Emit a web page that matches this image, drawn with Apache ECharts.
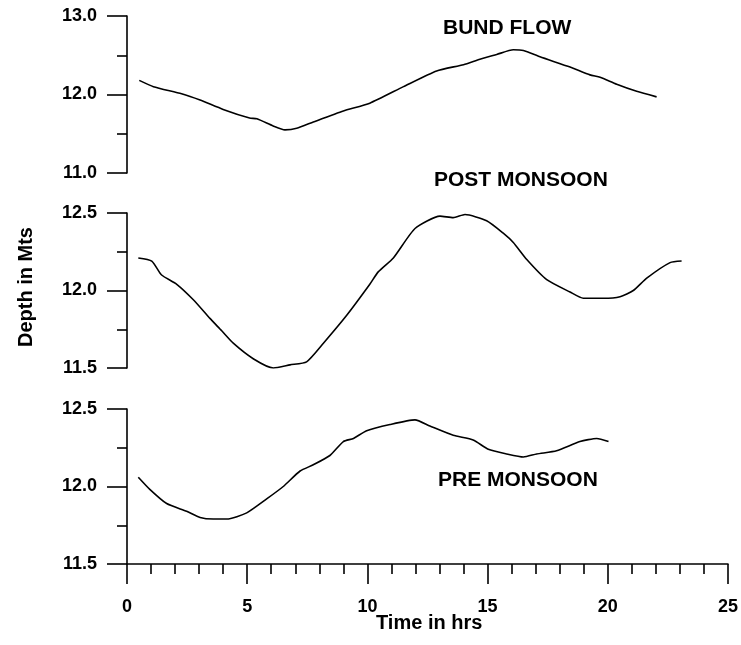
<!DOCTYPE html>
<html><head><meta charset="utf-8">
<script src="https://cdn.jsdelivr.net/npm/echarts@6/dist/echarts.min.js"></script>
<style>html,body{margin:0;padding:0;background:#fff}#c{width:741px;height:645px}</style>
</head><body><div id="c"></div>
<script>
// Time axis tick labels
const xTicks = [0, 5, 10, 15, 20, 25];

// BUND FLOW
const bundTime  = [0.51, 1.1, 2.27, 3.04, 4.0, 5.1, 5.4, 6.08, 6.57, 7.06, 7.75, 9.0, 10.1, 11.5, 12.88, 14.0, 14.68, 15.38, 16.07, 16.49, 17.18, 18.43, 19.26, 19.68, 20.37, 21.2, 22.03];
const bundDepth = [12.18, 12.10, 12.01, 11.93, 11.81, 11.70, 11.69, 11.60, 11.55, 11.57, 11.65, 11.79, 11.89, 12.10, 12.30, 12.38, 12.45, 12.51, 12.57, 12.56, 12.48, 12.35, 12.25, 12.22, 12.13, 12.04, 11.97];

// POST MONSOON
const postTime  = [0.47, 1.03, 1.44, 2.07, 2.76, 3.45, 3.94, 4.42, 5.25, 6.09, 6.78, 7.47, 8.17, 9.14, 10.1, 10.45, 11.08, 11.98, 13.02, 13.57, 14.06, 14.96, 15.65, 16.07, 16.63, 17.46, 18.43, 18.98, 19.81, 20.51, 21.06, 21.62, 22.59, 23.07];
const postDepth = [12.21, 12.19, 12.10, 12.04, 11.94, 11.82, 11.74, 11.66, 11.56, 11.50, 11.52, 11.54, 11.66, 11.84, 12.04, 12.12, 12.21, 12.40, 12.48, 12.47, 12.49, 12.45, 12.37, 12.31, 12.20, 12.07, 11.99, 11.95, 11.95, 11.96, 12.00, 12.08, 12.18, 12.19];

// PRE MONSOON
const preTime  = [0.47, 0.96, 1.65, 2.48, 3.04, 3.59, 4.15, 4.98, 5.81, 6.50, 7.2, 7.75, 8.44, 9.0, 9.42, 9.97, 10.94, 11.98, 12.6, 13.57, 14.4, 15.03, 15.79, 16.49, 17.04, 17.87, 18.84, 19.54, 20.03];
const preDepth = [12.06, 11.98, 11.89, 11.84, 11.80, 11.79, 11.79, 11.83, 11.92, 12.00, 12.10, 12.14, 12.20, 12.29, 12.31, 12.36, 12.40, 12.43, 12.39, 12.33, 12.30, 12.24, 12.21, 12.19, 12.21, 12.23, 12.29, 12.31, 12.29];

const titles = ['BUND FLOW', 'POST MONSOON', 'PRE MONSOON'];
const xName = 'Time in hrs';
const yName = 'Depth in Mts';

const FONT = '"Liberation Sans", Arial, sans-serif';
const zip = (a, b) => a.map((t, i) => [t, b[i]]);

const chart = echarts.init(document.getElementById('c'), null, {renderer: 'canvas'});

const grids = [
  {left: 127, width: 601, top: 16, height: 157},
  {left: 127, width: 601, top: 213, height: 155},
  {left: 127, width: 601, top: 409, height: 155}
];
const lineSt = {color: '#000', width: 1.6};

function yAxis(idx, min, max, interval) {
  return {
    type: 'value', gridIndex: idx, min: min, max: max, interval: interval,
    axisLine: {show: true, lineStyle: lineSt},
    axisTick: {show: true, length: 20, lineStyle: lineSt},
    minorTick: {show: true, splitNumber: 2, length: 10, lineStyle: {color: '#000', width: 1.6}},
    splitLine: {show: false},
    minorSplitLine: {show: false},
    axisLabel: {margin: 30, color: '#000', fontFamily: FONT, fontWeight: 'bold', fontSize: 18,
      formatter: v => v.toFixed(1)}
  };
}
function xAxis(idx, show) {
  return {
    type: 'value', gridIndex: idx, min: xTicks[0], max: xTicks[xTicks.length - 1], interval: 5,
    show: show,
    axisLine: {show: true, onZero: false, lineStyle: lineSt},
    axisTick: {show: true, length: 20, lineStyle: lineSt},
    minorTick: {show: true, splitNumber: 5, length: 10, lineStyle: {color: '#000', width: 1.6}},
    splitLine: {show: false},
    axisLabel: {margin: 34, color: '#000', fontFamily: FONT, fontWeight: 'bold', fontSize: 18}
  };
}

const txt = (x, y, s, size, rot) => ({
  type: 'text', x: x, y: y, rotation: rot || 0,
  style: {text: s, fill: '#000', font: 'bold ' + size + 'px ' + FONT, textAlign: rot ? 'center' : 'left', textVerticalAlign: 'middle'}
});

const sSt = {type: 'line', showSymbol: false, smooth: 0.2, lineStyle: lineSt, itemStyle: {color: '#000'}};

chart.setOption({
  animation: false,
  backgroundColor: '#fff',
  grid: grids,
  xAxis: [xAxis(0, false), xAxis(1, false), xAxis(2, true)],
  yAxis: [yAxis(0, 11, 13, 1), yAxis(1, 11.5, 12.5, 0.5), yAxis(2, 11.5, 12.5, 0.5)],
  series: [
    Object.assign({xAxisIndex: 0, yAxisIndex: 0, data: zip(bundTime, bundDepth)}, sSt),
    Object.assign({xAxisIndex: 1, yAxisIndex: 1, data: zip(postTime, postDepth)}, sSt),
    Object.assign({xAxisIndex: 2, yAxisIndex: 2, data: zip(preTime, preDepth)}, sSt)
  ],
  graphic: [
    txt(443, 28, titles[0], 21),
    txt(434, 180, titles[1], 21),
    txt(438, 480, titles[2], 21),
    txt(376, 623, xName, 20),
    txt(26, 287, yName, 20, Math.PI / 2)
  ]
});
</script></body></html>
